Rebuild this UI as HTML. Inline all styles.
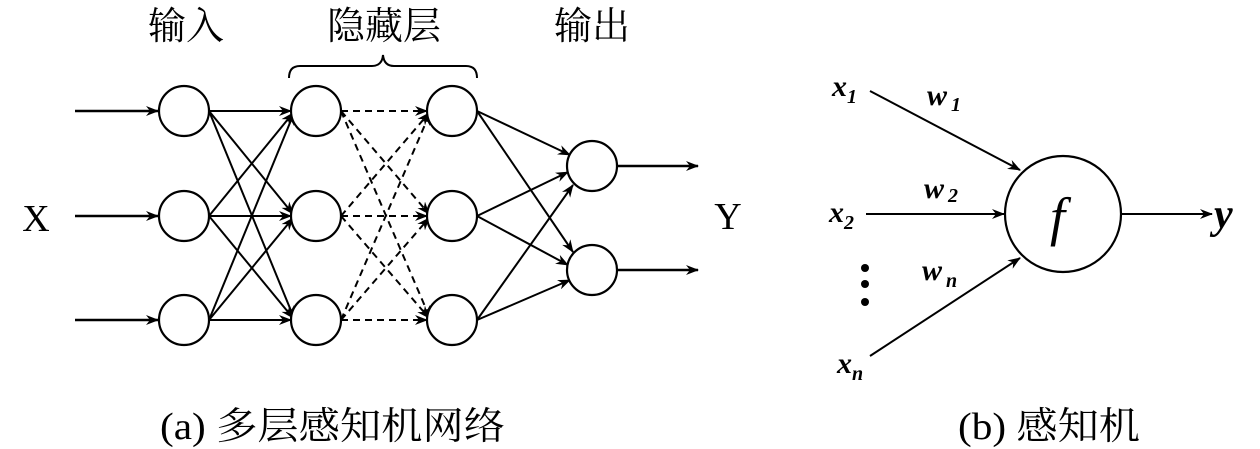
<!DOCTYPE html>
<html><head><meta charset="utf-8"><style>
html,body{margin:0;padding:0;background:#fff;}
svg{display:block;}
.cj{font-family:"Liberation Serif","Noto Serif CJK SC",serif;}
.m{font-family:"Liberation Serif",serif;font-style:italic;font-weight:bold;}
</style></head><body>
<svg width="1260" height="449" viewBox="0 0 1260 449" xmlns="http://www.w3.org/2000/svg">
<defs>
<marker id="a" markerWidth="13" markerHeight="10" refX="12" refY="5" orient="auto" markerUnits="userSpaceOnUse">
<path d="M0,0 L13,5 L0,10 L4,5 Z" fill="#000"/></marker>
</defs>
<g stroke="#000" stroke-width="2.4" fill="none">
<line x1="75" y1="111" x2="158" y2="111" marker-end="url(#a)"/>
<line x1="75" y1="216" x2="158" y2="216" marker-end="url(#a)"/>
<line x1="75" y1="320" x2="158" y2="320" marker-end="url(#a)"/>
<g stroke-width="2">
<line x1="209" y1="111" x2="291" y2="111" marker-end="url(#a)"/>
<line x1="209" y1="111" x2="293" y2="214" marker-end="url(#a)"/>
<line x1="209" y1="111" x2="294" y2="318" marker-end="url(#a)"/>
<line x1="209" y1="216" x2="293" y2="113" marker-end="url(#a)"/>
<line x1="209" y1="216" x2="291" y2="216" marker-end="url(#a)"/>
<line x1="209" y1="216" x2="293" y2="318" marker-end="url(#a)"/>
<line x1="209" y1="320" x2="294" y2="113" marker-end="url(#a)"/>
<line x1="209" y1="320" x2="293" y2="218" marker-end="url(#a)"/>
<line x1="209" y1="320" x2="291" y2="320" marker-end="url(#a)"/>
</g>
<g stroke-width="2" stroke-dasharray="7,5">
<line x1="341" y1="111" x2="427" y2="111" marker-end="url(#a)"/>
<line x1="341" y1="111" x2="429" y2="214" marker-end="url(#a)"/>
<line x1="341" y1="111" x2="430" y2="318" marker-end="url(#a)"/>
<line x1="341" y1="216" x2="429" y2="113" marker-end="url(#a)"/>
<line x1="341" y1="216" x2="427" y2="216" marker-end="url(#a)"/>
<line x1="341" y1="216" x2="429" y2="318" marker-end="url(#a)"/>
<line x1="341" y1="320" x2="430" y2="113" marker-end="url(#a)"/>
<line x1="341" y1="320" x2="429" y2="218" marker-end="url(#a)"/>
<line x1="341" y1="320" x2="427" y2="320" marker-end="url(#a)"/>
</g>
<g stroke-width="2">
<line x1="477" y1="111" x2="570" y2="155" marker-end="url(#a)"/>
<line x1="477" y1="111" x2="573" y2="252" marker-end="url(#a)"/>
<line x1="477" y1="216" x2="568" y2="172" marker-end="url(#a)"/>
<line x1="477" y1="216" x2="568" y2="265" marker-end="url(#a)"/>
<line x1="477" y1="320" x2="573" y2="185" marker-end="url(#a)"/>
<line x1="477" y1="320" x2="570" y2="280" marker-end="url(#a)"/>
</g>
<line x1="617" y1="166" x2="698" y2="166" marker-end="url(#a)"/>
<line x1="617" y1="270" x2="698" y2="270" marker-end="url(#a)"/>
<g fill="#fff" stroke-width="2.2">
<circle cx="184" cy="111" r="25"/><circle cx="184" cy="216" r="25"/><circle cx="184" cy="320" r="25"/>
<circle cx="316" cy="111" r="25"/><circle cx="316" cy="216" r="25"/><circle cx="316" cy="320" r="25"/>
<circle cx="452" cy="111" r="25"/><circle cx="452" cy="216" r="25"/><circle cx="452" cy="320" r="25"/>
<circle cx="592" cy="166" r="25"/><circle cx="592" cy="270" r="25"/>
</g>
<path d="M289,78 Q289,66 300,66 L372,66 Q382,66 383,55 Q384,66 394,66 L466,66 Q477,66 477,78" stroke-width="2"/>
<line x1="870" y1="91" x2="1020" y2="170" marker-end="url(#a)" stroke-width="2"/>
<line x1="866" y1="214" x2="1004" y2="214" marker-end="url(#a)" stroke-width="2"/>
<line x1="870" y1="356" x2="1020" y2="258" marker-end="url(#a)" stroke-width="2"/>
<line x1="1122" y1="214" x2="1212" y2="214" marker-end="url(#a)" stroke-width="2"/>
<circle cx="1063" cy="214" r="58" stroke-width="2.2"/>
</g>
<g fill="#000">
<circle cx="865" cy="268" r="4"/><circle cx="865" cy="284" r="4"/><circle cx="865" cy="302" r="4"/>
</g>
<g class="cj" font-size="38" text-anchor="middle">
<text x="186" y="39">输入</text>
<text x="384" y="39">隐藏层</text>
<text x="592" y="39">输出</text>
<text x="36" y="231">X</text>
<text x="728" y="229">Y</text>
<text x="160" y="439" text-anchor="start" textLength="345" lengthAdjust="spacingAndGlyphs">(a) 多层感知机网络</text>
<text x="958" y="439" text-anchor="start" textLength="182" lengthAdjust="spacingAndGlyphs">(b) 感知机</text>
</g>
<g class="m" font-size="30">
<text x="832" y="96">x<tspan font-size="20" dy="7">1</tspan></text>
<text x="829" y="222">x<tspan font-size="20" dy="7">2</tspan></text>
<text x="837" y="373">x<tspan font-size="20" dy="7">n</tspan></text>
<text x="927" y="105">w<tspan font-size="20" dx="4" dy="6">1</tspan></text>
<text x="924" y="198">w<tspan font-size="20" dx="4" dy="4">2</tspan></text>
<text x="922" y="280">w<tspan font-size="20" dx="4" dy="7">n</tspan></text>
<text x="1214" y="228" font-size="42">y</text>
</g>
<text x="1050" y="235" font-family="Liberation Serif,serif" font-style="italic" font-size="54">f</text>
</svg>
</body></html>
